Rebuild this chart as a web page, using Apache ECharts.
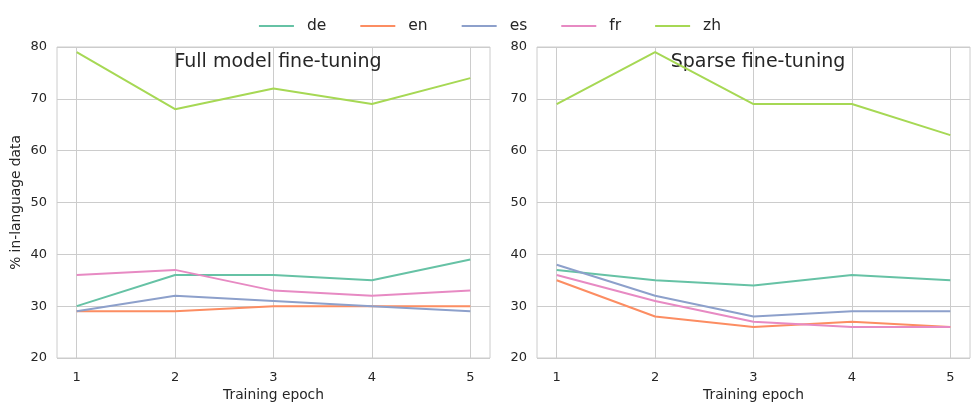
<!DOCTYPE html>
<html>
<head>
<meta charset="utf-8">
<script src="https://cdn.jsdelivr.net/npm/echarts@6/dist/echarts.min.js"></script>
<style>
html, body { margin: 0; padding: 0; background: #fff; }
#chart { width: 980px; height: 411px; }
</style>
</head>
<body>
<div id="chart"></div>
<script>
// 数据
var epochs = [1, 2, 3, 4, 5];
var langs = ['de', 'en', 'es', 'fr', 'zh'];
var colors = ['#66c2a5', '#fc8d62', '#8da0cb', '#e78ac3', '#a6d854'];

var fullDe = [30, 36, 36, 35, 39];
var fullEn = [29, 29, 30, 30, 30];
var fullEs = [29, 32, 31, 30, 29];
var fullFr = [36, 37, 33, 32, 33];
var fullZh = [79, 68, 72, 69, 74];

var sparseDe = [37, 35, 34, 36, 35];
var sparseEn = [35, 28, 26, 27, 26];
var sparseEs = [38, 32, 28, 29, 29];
var sparseFr = [36, 31, 27, 26, 26];
var sparseZh = [69, 79, 69, 69, 63];

var yTicks = [20, 30, 40, 50, 60, 70, 80];

var fullData = [fullDe, fullEn, fullEs, fullFr, fullZh];
var sparseData = [sparseDe, sparseEn, sparseEs, sparseFr, sparseZh];

function pairs(vals) {
	return epochs.map(function (e, i) { return [e, vals[i]]; });
}

(function(){
var chart = echarts.init(document.getElementById('chart'));
var font = 'DejaVu Sans';
var textColor = '#262626';

function xAxis(idx) {
	return {
		type: 'value',
		gridIndex: idx,
		min: 0.8,
		max: 5.2,
		name: 'Training epoch',
		nameLocation: 'middle',
		nameGap: 28,
		nameTextStyle: { fontFamily: font, fontSize: 13.8, color: textColor },
		axisLine: { show: false },
		axisTick: { show: false, customValues: epochs },
		axisLabel: { customValues: epochs, fontFamily: font, fontSize: 13, color: textColor, margin: 13 },
		splitLine: { show: true, lineStyle: { color: '#cccccc', width: 1 } }
	};
}

function yAxis(idx, withName) {
	return {
		type: 'value',
		gridIndex: idx,
		min: 20,
		max: 80,
		interval: 10,
		name: withName ? '% in-language data' : '',
		nameLocation: 'middle',
		nameGap: 34,
		nameTextStyle: { fontFamily: font, fontSize: 13.8, color: textColor },
		axisLine: { show: false },
		axisTick: { show: false },
		axisLabel: { fontFamily: font, fontSize: 13, color: textColor, margin: 10,
			formatter: function (v) { return yTicks.indexOf(v) >= 0 ? String(v) : ''; } },
		splitLine: { show: true, lineStyle: { color: '#cccccc', width: 1 } }
	};
}

var series = [];
langs.forEach(function (name, i) {
	series.push({
		name: name, type: 'line', xAxisIndex: 0, yAxisIndex: 0,
		symbol: 'none', data: pairs(fullData[i]),
		lineStyle: { color: colors[i], width: 2 }, itemStyle: { color: colors[i] },
		z: 3
	});
	series.push({
		name: name, type: 'line', xAxisIndex: 1, yAxisIndex: 1,
		symbol: 'none', data: pairs(sparseData[i]),
		lineStyle: { color: colors[i], width: 2 }, itemStyle: { color: colors[i] },
		z: 3
	});
});

var option = {
	animation: false,
	backgroundColor: '#ffffff',
	color: colors,
	title: [
		{ text: 'Full model fine-tuning', left: 273, top: 48, textAlign: 'center',
		  textStyle: { fontFamily: font, fontSize: 19, fontWeight: 'normal', color: textColor }, z: 1 },
		{ text: 'Sparse fine-tuning', left: 753, top: 48, textAlign: 'center',
		  textStyle: { fontFamily: font, fontSize: 19, fontWeight: 'normal', color: textColor }, z: 1 }
	],
	legend: {
		data: langs.map(function (n) { return { name: n, icon: 'rect' }; }),
		top: 13,
		left: 'center',
		itemWidth: 35,
		itemHeight: 2,
		itemGap: 34,
		textStyle: { fontFamily: font, fontSize: 15.5, color: textColor, padding: [0, 0, 0, 8] }
	},
	grid: [
		{ left: 57, right: 490, top: 47, bottom: 53, show: true, borderColor: '#cccccc', borderWidth: 1 },
		{ left: 537, right: 10, top: 47, bottom: 53, show: true, borderColor: '#cccccc', borderWidth: 1 }
	],
	xAxis: [xAxis(0), xAxis(1)],
	yAxis: [yAxis(0, true), yAxis(1, false)],
	series: series
};

chart.setOption(option);
})();
</script>
</body>
</html>
